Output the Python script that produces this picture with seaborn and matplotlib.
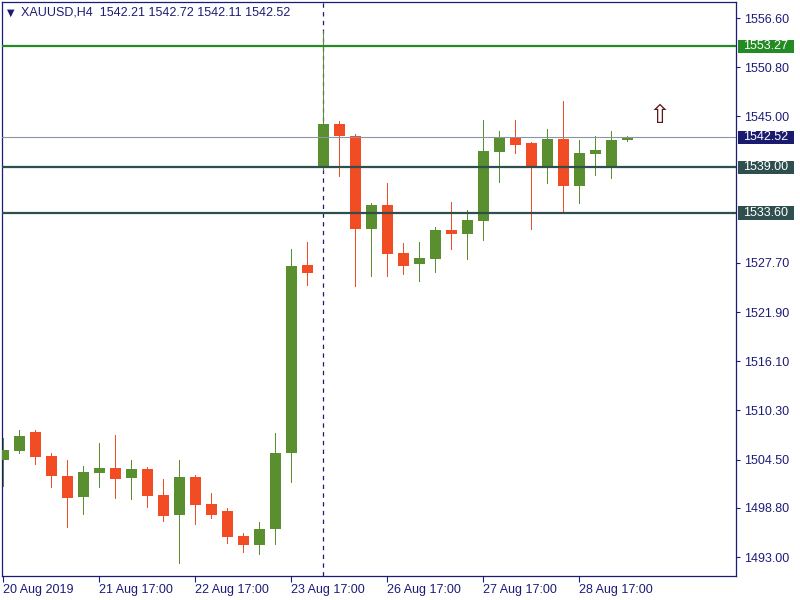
import numpy as np
import pandas as pd
import matplotlib
matplotlib.use("Agg")
import matplotlib.pyplot as plt
from matplotlib.patches import Rectangle
import seaborn as sns

#%%
# XAUUSD H4 candles (open / high / low / close)
opens = [1504.45, 1505.54, 1507.75, 1504.92, 1502.56, 1500.12, 1502.95, 1503.50,
         1502.32, 1503.38, 1500.32, 1497.99, 1502.44, 1499.25, 1498.43, 1495.48,
         1494.45, 1496.34, 1505.31, 1527.49, 1538.94, 1544.09, 1542.71, 1531.74,
         1534.54, 1528.87, 1527.61, 1528.20, 1531.59, 1531.15, 1532.68, 1540.82,
         1542.48, 1541.89, 1538.98, 1542.32, 1536.81, 1540.59, 1539.05, 1542.21]
highs = [1507.04, 1507.99, 1507.99, 1505.31, 1504.45, 1503.74, 1506.49, 1507.43,
         1504.45, 1503.66, 1502.20, 1504.45, 1502.68, 1500.59, 1498.82, 1495.83,
         1497.13, 1507.63, 1529.34, 1530.17, 1555.07, 1544.45, 1542.91, 1534.77,
         1537.17, 1530.05, 1530.17, 1531.97, 1534.89, 1533.95, 1544.56, 1543.27,
         1544.56, 1542.00, 1543.50, 1546.81, 1542.20, 1542.68, 1543.27, 1542.72]
lows = [1501.38, 1505.31, 1504.01, 1501.26, 1496.54, 1498.11, 1501.26, 1500.00,
        1499.88, 1498.90, 1497.28, 1492.33, 1496.89, 1497.64, 1494.69, 1493.63,
        1493.39, 1494.57, 1501.89, 1525.13, 1538.70, 1537.96, 1525.01, 1526.19,
        1526.19, 1526.43, 1525.60, 1526.66, 1529.38, 1528.16, 1530.44, 1537.28,
        1540.71, 1531.74, 1537.17, 1533.74, 1534.81, 1538.11, 1537.76, 1542.11]
closes = [1505.63, 1507.28, 1504.84, 1502.56, 1500.00, 1503.03, 1503.50, 1502.24,
          1503.38, 1500.20, 1497.87, 1502.44, 1499.17, 1497.99, 1495.40, 1494.45,
          1496.30, 1505.27, 1527.34, 1526.55, 1544.09, 1542.71, 1531.74, 1534.54,
          1528.79, 1527.37, 1528.28, 1531.59, 1531.15, 1532.77, 1540.91, 1542.52,
          1541.65, 1538.98, 1542.32, 1536.81, 1540.71, 1541.02, 1542.20, 1542.52]

tick_idx = [0, 6, 12, 18, 24, 30, 36]
tick_labels = ["20 Aug 2019", "21 Aug 17:00", "22 Aug 17:00", "23 Aug 17:00",
               "26 Aug 17:00", "27 Aug 17:00", "28 Aug 17:00"]
ytick_vals = [1556.60, 1550.80, 1545.00, 1527.70, 1521.90, 1516.10,
              1510.30, 1504.50, 1498.80, 1493.00]

level_prices = [1553.27, 1539.00, 1533.60]
level_colors = ["#248A24", "#2F4F4F", "#2F4F4F"]
bid_price = 1542.52
vline_idx = 20
signal_idx = 41
signal_price = 1545.0

#%%
df = pd.DataFrame({"o": opens, "h": highs, "l": lows, "c": closes})
df["idx"] = np.arange(len(df))
df["color"] = np.where(df.c >= df.o, "#5A8F30", "#F24C25")
df["bottom"] = df[["o", "c"]].min(axis=1)
df["height"] = (df.c - df.o).abs().clip(lower=0.12)

sns.set_theme(style="ticks")
plt.rcParams["font.family"] = ["Liberation Sans", "DejaVu Sans"]
navy = "#1C1C78"

fig = plt.figure(figsize=(8, 6), dpi=100)
ax = fig.add_axes([2 / 800, 24 / 600, 734 / 800, 574 / 600])

# dotted period separator
ax.axvline(vline_idx, color=navy, lw=0.9, ls=(0, (3.5, 3.5)), zorder=1)

# candles (crisp 1px wicks)
ax.vlines(df.idx, df.l, df.h, colors=df.color, lw=0.72, antialiased=False, zorder=2)
ax.bar(df.idx, df.height, bottom=df.bottom, width=0.69, color=df.color,
       linewidth=0, zorder=3)

# horizontal levels + bid line
ax.axhline(bid_price, color="#8A94A2", lw=0.8, zorder=4)
for p, col in zip(level_prices, level_colors):
    ax.axhline(p, color=col, lw=1.6, zorder=5)

ax.set_xlim(-0.08, 45.79)
ax.set_ylim(1490.76, 1558.49)

# price tags on the right axis
tag_h = 13.3 / 8.475
for p, col in zip(level_prices + [bid_price], level_colors + ["#1A1A6E"]):
    ax.add_patch(Rectangle((1.0027, p - tag_h / 2), 0.0763, tag_h,
                           transform=ax.get_yaxis_transform(), facecolor=col,
                           edgecolor="none", clip_on=False, zorder=10))
    ax.text(1.0095, p, f"{p:.2f}", transform=ax.get_yaxis_transform(),
            color="white", fontsize=9, va="center", ha="left", clip_on=False,
            zorder=11)

# signal arrow
ax.text(signal_idx, signal_price, "\u21e7", fontsize=19, color="#5E1818",
        ha="center", va="center", family="DejaVu Sans", zorder=6)

# header
ax.text(0.0065, 0.9814, "\u25bc", transform=ax.transAxes, fontsize=7,
        color=navy, va="center", ha="left", family="DejaVu Sans")
ax.text(0.0255, 0.9814, "XAUUSD,H4  1542.21 1542.72 1542.11 1542.52",
        transform=ax.transAxes, fontsize=9, color=navy, va="center", ha="left")

# axes styling
ax.yaxis.tick_right()
ax.set_yticks(ytick_vals)
ax.set_yticklabels([f"{v:.2f}" for v in ytick_vals])
ax.set_xticks(tick_idx)
ax.set_xticklabels(tick_labels, ha="left")
ax.tick_params(axis="y", length=3, width=0.8, pad=2.5, labelsize=9,
               colors=navy, labelcolor=navy)
ax.tick_params(axis="x", length=4, width=0.8, pad=2, labelsize=9,
               colors=navy, labelcolor=navy)
for s in ax.spines.values():
    s.set_visible(True)
    s.set_color(navy)
    s.set_linewidth(0.9)
ax.set_xlabel("")
ax.set_ylabel("")
ax.grid(False)

fig.savefig("out.png", dpi=100)
